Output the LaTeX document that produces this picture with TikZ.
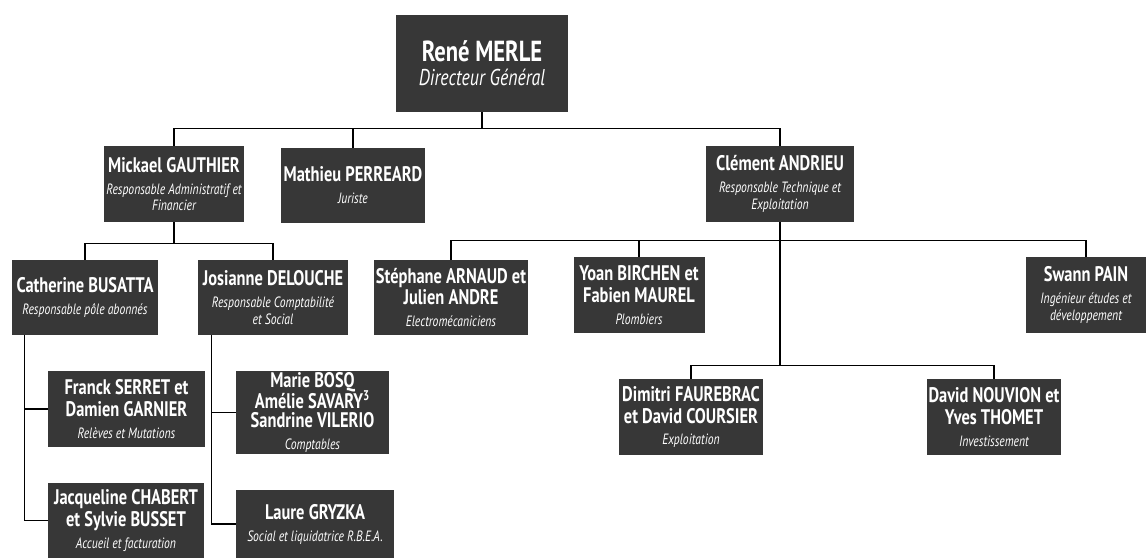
\documentclass[tikz,border=0pt]{standalone}
\usepackage{fontspec}
\setmainfont{PT Sans}[FakeStretch=0.78]
\definecolor{fond}{RGB}{55,55,55}
\tikzset{
  poste/.style 2 args={fill=fond, text=white, align=center, inner sep=1pt,
    minimum width=#1*0.02cm, minimum height=#2*0.02cm,
    font=\fontsize{12}{12.5}\selectfont\bfseries},
  lien/.style={draw=black, line width=0.6pt}
}
\newcommand{\fonction}[1]{{\fontsize{8.5}{9.5}\selectfont\mdseries\itshape #1}}
\begin{document}
\begin{tikzpicture}[x=0.02cm, y=-0.02cm]
\useasboundingbox (0,0) rectangle (1146,560);
\node[poste={172}{97}, font=\fontsize{16.5}{13.5}\selectfont\bfseries] (P_0_0) at (482,63.5) {René MERLE\\{\fontsize{13}{14}\selectfont\mdseries\itshape Directeur Général}};
\node[poste={140}{76}] (P_1_0) at (174,184) {Mickael GAUTHIER\\\fonction{Responsable Administratif et}\\[-3pt]\fonction{Financier}};
\node[poste={144}{75}] (P_1_1) at (353,185.5) {Mathieu PERREARD\\\fonction{Juriste}};
\node[poste={148}{76}] (P_1_2) at (780,184) {Clément ANDRIEU\\\fonction{Responsable Technique et}\\[-3pt]\fonction{Exploitation}};
\draw[lien] (P_0_0.south) -- ++(0,16) -| (P_1_0.north);
\draw[lien] (P_0_0.south) -- ++(0,16) -| (P_1_1.north);
\draw[lien] (P_0_0.south) -- ++(0,16) -| (P_1_2.north);
\node[poste={146}{75}] (P_2_0) at (85,297.5) {Catherine BUSATTA\\\fonction{Responsable pôle abonnés}};
\node[poste={150}{75}] (P_2_1) at (273,297.5) {Josianne DELOUCHE\\\fonction{Responsable Comptabilité}\\[-3pt]\fonction{et Social}};
\draw[lien] (P_1_0.south) -- ++(0,21) -| (P_2_0.north);
\draw[lien] (P_1_0.south) -- ++(0,21) -| (P_2_1.north);
\node[poste={148}{75}] (P_2_2) at (451,297.5) {Stéphane ARNAUD et\\Julien ANDRE\\\fonction{Electromécaniciens}};
\node[poste={131}{76}] (P_2_3) at (639,295) {Yoan BIRCHEN et\\Fabien MAUREL\\\fonction{Plombiers}};
\node[poste={120}{76}] (P_2_4) at (1086,295) {Swann PAIN\\\fonction{Ingénieur études et}\\[-3pt]\fonction{développement}};
\draw[lien] (P_1_2.south) -- ++(0,18) -| (P_2_2.north);
\draw[lien] (P_1_2.south) -- ++(0,18) -| (P_2_3.north);
\draw[lien] (P_1_2.south) -- ++(0,18) -| (P_2_4.north);
\node[poste={157}{76}] (P_3_0) at (126.5,409) {Franck SERRET et\\Damien GARNIER\\\fonction{Relèves et Mutations}};
\node[poste={156}{75}] (P_3_1) at (126,520.5) {Jacqueline CHABERT\\et Sylvie BUSSET\\\fonction{Accueil et facturation}};
\draw[lien] (P_2_0.south west) ++(13,0) |- (P_3_0.west);
\draw[lien] (P_2_0.south west) ++(13,0) |- (P_3_1.west);
\node[poste={153}{83}] (P_3_2) at (312.5,412.5) {Marie BOSQ\\[-1.5pt]Amélie SAVARY\textsuperscript{3}\\[-1.5pt]Sandrine VILERIO\\\fonction{Comptables}};
\node[poste={158}{68}] (P_3_3) at (315,524) {Laure GRYZKA\\\fonction{Social et liquidatrice R.B.E.A.}};
\draw[lien] (P_2_1.south west) ++(14,0) |- (P_3_2.west);
\draw[lien] (P_2_1.south west) ++(14,0) |- (P_3_3.west);
\node[poste={144}{76}] (P_3_4) at (691,417) {Dimitri FAUREBRAC\\et David COURSIER\\\fonction{Exploitation}};
\node[poste={132}{76}] (P_3_5) at (994,417) {David NOUVION et\\Yves THOMET\\\fonction{Investissement}};
\draw[lien] (P_1_2.south) -- ++(0,143) -| (P_3_4.north);
\draw[lien] (P_1_2.south) -- ++(0,143) -| (P_3_5.north);
\end{tikzpicture}
\end{document}
